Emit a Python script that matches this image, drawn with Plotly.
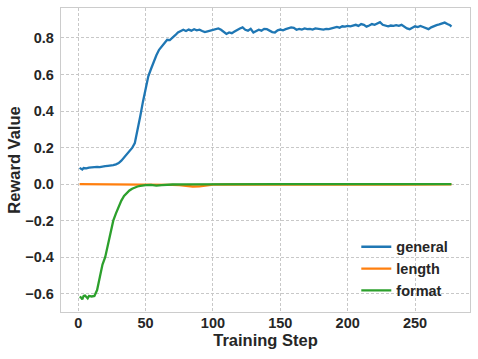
import plotly.graph_objects as go

# ---- data ----
general_steps = [1, 2, 3, 4, 6, 8, 10, 12, 14, 16, 18, 20, 22, 24, 26, 28, 30, 32, 34, 36, 38, 40, 42, 44, 46, 48, 50,
                 52, 54, 56, 58, 60, 62, 64, 66, 68, 70, 72, 74, 76, 78, 80, 82, 84, 86, 88, 90, 92, 94, 96, 98, 100,
                 102, 104, 106, 108, 110, 112, 114, 116, 118, 120, 122, 124, 126, 128, 130, 132, 134, 136, 138, 140,
                 142, 144, 146, 148, 150, 152, 154, 156, 158, 160, 162, 164, 166, 168, 170, 172, 174, 176, 178, 180,
                 182, 184, 186, 188, 190, 192, 194, 196, 198, 200, 202, 204, 206, 208, 210, 212, 214, 216, 218, 220,
                 222, 224, 226, 228, 230, 232, 234, 236, 238, 240, 242, 244, 246, 248, 250, 252, 254, 256, 258, 260,
                 262, 264, 266, 268, 270, 272, 274, 276, 277]
general_values = [0.089, 0.085, 0.080, 0.088, 0.086, 0.090, 0.092, 0.090, 0.094, 0.093, 0.097, 0.098, 0.100, 0.100,
                  0.104, 0.108, 0.115, 0.128, 0.145, 0.160, 0.180, 0.198, 0.225, 0.290, 0.370, 0.450, 0.520,
                  0.590, 0.630, 0.670, 0.705, 0.735, 0.755, 0.775, 0.790, 0.788, 0.800, 0.815, 0.830, 0.838, 0.845,
                  0.838, 0.846, 0.840, 0.848, 0.842, 0.845, 0.838, 0.832, 0.836, 0.840, 0.845,
                  0.850, 0.852, 0.845, 0.835, 0.822, 0.830, 0.826, 0.835, 0.845, 0.852, 0.858, 0.845, 0.840, 0.850,
                  0.830, 0.838, 0.845, 0.840, 0.850, 0.848, 0.840, 0.832, 0.830, 0.842, 0.846, 0.842, 0.848, 0.852,
                  0.858, 0.855, 0.845, 0.850, 0.846, 0.852, 0.848, 0.850, 0.846, 0.852, 0.850, 0.848, 0.846, 0.850,
                  0.848, 0.852, 0.856, 0.860, 0.856, 0.864, 0.862, 0.866, 0.864, 0.870, 0.872, 0.866, 0.876, 0.872,
                  0.862, 0.868, 0.876, 0.872, 0.878, 0.886, 0.872, 0.868, 0.864, 0.868, 0.866, 0.870, 0.866, 0.872,
                  0.862, 0.852, 0.848, 0.856, 0.864, 0.860, 0.866, 0.860, 0.854, 0.848, 0.858, 0.866, 0.870, 0.874,
                  0.878, 0.884, 0.876, 0.870, 0.862]

length_steps = [1, 20, 40, 50, 60, 70, 75, 80, 85, 90, 95, 100, 110, 150, 200, 240, 277]
length_values = [0.0, 0.0, -0.002, -0.003, -0.003, -0.004, -0.006, -0.010, -0.013, -0.012, -0.008, -0.003,
                 -0.001, -0.002, -0.002, -0.002, -0.001]

format_steps = [1, 2, 3, 4, 5, 6, 7, 8, 10, 12, 14, 16, 18, 20, 22, 24, 26, 28, 30, 32, 34, 36, 38, 40, 42, 44,
                46, 48, 50, 54, 58, 62, 66, 70, 80, 100, 150, 200, 250, 277]
format_values = [-0.617, -0.620, -0.630, -0.612, -0.610, -0.620, -0.625, -0.612, -0.615, -0.612, -0.580, -0.510,
                 -0.440, -0.400, -0.330, -0.260, -0.200, -0.160, -0.120, -0.090, -0.065, -0.048, -0.035, -0.025,
                 -0.018, -0.013, -0.010, -0.007, -0.005, -0.004, -0.008, -0.005, -0.003, -0.002, -0.001, 0.0,
                 0.0, 0.0, 0.0, 0.0]

x_ticks = [0, 50, 100, 150, 200, 250]
y_ticks = [-0.6, -0.4, -0.2, 0.0, 0.2, 0.4, 0.6, 0.8]

series = [
    ("general", general_steps, general_values, "#1f77b4"),
    ("length", length_steps, length_values, "#ff7f0e"),
    ("format", format_steps, format_values, "#2ca02c"),
]

FONT = "Liberation Sans, Arial, sans-serif"

fig = go.Figure()
for name, xs, ys, color in series:
    fig.add_trace(go.Scatter(x=xs, y=ys, mode="lines", name=name, legendgroup=name,
                             line=dict(color=color, width=2.3)))

axis_common = dict(
    showgrid=True, gridcolor="#c8c8c8", griddash="3px,2px", gridwidth=0.8,
    showline=True, linecolor="#cccccc", linewidth=1.3, mirror=True,
    zeroline=False, ticks="", automargin=False,
    tickfont=dict(size=14.5, color="#262626", family=FONT, weight="bold"),
)

fig.update_layout(
    width=478, height=359,
    margin=dict(l=61, r=8, t=8, b=47),
    paper_bgcolor="white", plot_bgcolor="white",
    font=dict(family=FONT, color="#262626", weight="bold"),
    xaxis=dict(range=[-12.8, 290.8], tickvals=x_ticks, ticklabelstandoff=-3,
               title=dict(text="Training Step", font=dict(size=16.5, family=FONT, weight="bold"), standoff=0),
               **axis_common),
    yaxis=dict(range=[-0.70, 0.964], tickvals=y_ticks, tickformat=".1f", ticklabelstandoff=3,
               title=dict(text="Reward Value", font=dict(size=16.5, family=FONT, weight="bold"), standoff=0),
               **axis_common),
    legend=dict(x=0.722, y=0.267, xanchor="left", yanchor="top", bgcolor="rgba(0,0,0,0)",
                font=dict(size=14.5, family=FONT, weight="bold"), traceorder="grouped", tracegroupgap=0),
    showlegend=True,
)

fig.write_html("out.html", config={"displayModeBar": False},
               post_script="document.body.style.margin='0';document.body.style.padding='0';")
